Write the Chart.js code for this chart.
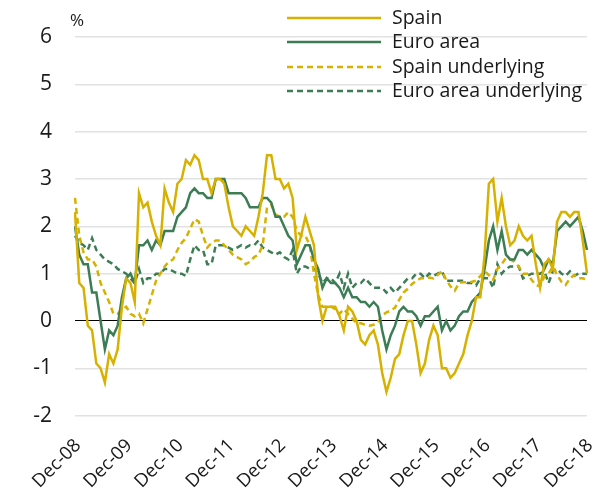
<!DOCTYPE html>
<html>
<head>
<meta charset="utf-8">
<script src="https://cdn.jsdelivr.net/npm/chart.js@4/dist/chart.umd.min.js"></script>
<style>
  body { margin: 0; background: #fff; }
  #wrap { width: 603px; height: 502px; position: relative; }
</style>
</head>
<body>
<div id="wrap"><canvas id="inflationChart"></canvas></div>
<script>
// monthly, Dec-08 .. Dec-18 (121 points)
const monthNames = ['Jan', 'Feb', 'Mar', 'Apr', 'May', 'Jun', 'Jul', 'Aug', 'Sep', 'Oct', 'Nov', 'Dec'];
const tickLabels = ['Dec-08', 'Dec-09', 'Dec-10', 'Dec-11', 'Dec-12', 'Dec-13', 'Dec-14', 'Dec-15', 'Dec-16', 'Dec-17', 'Dec-18'];

const spain = [
  2.3, 0.8, 0.7, -0.1, -0.2, -0.9, -1.0, -1.3, -0.7, -0.9, -0.6, 0.3,
  0.9, 0.8, 0.4, 2.7, 2.4, 2.5, 2.1, 1.8, 1.6, 2.8, 2.5, 2.3,
  2.9, 3.0, 3.4, 3.3, 3.5, 3.4, 3.0, 3.0, 2.7, 3.0, 3.0, 2.9,
  2.4, 2.0, 1.9, 1.8, 2.0, 1.9, 1.8, 2.2, 2.7, 3.5, 3.5, 3.0,
  3.0, 2.8, 2.9, 2.6, 1.5, 1.8, 2.2, 1.9, 1.6, 0.5, 0.0, 0.3,
  0.3, 0.3, 0.1, -0.2, 0.3, 0.2, 0.0, -0.4, -0.5, -0.3, -0.2, -0.5,
  -1.1, -1.5, -1.2, -0.8, -0.7, -0.3, 0.0, 0.0, -0.5, -1.1, -0.9, -0.4,
  -0.1, -0.3, -1.0, -1.0, -1.2, -1.1, -0.9, -0.7, -0.3, 0.0, 0.5, 0.5,
  1.4, 2.9, 3.0, 2.1, 2.6, 2.0, 1.6, 1.7, 2.0, 1.8, 1.7, 1.8,
  1.2, 0.7, 1.2, 1.3, 1.1, 2.1, 2.3, 2.3, 2.2, 2.3, 2.3, 1.7,
  1.0
];
const euroArea = [
  2.0, 1.4, 1.2, 1.2, 0.6, 0.6, 0.0, -0.6, -0.2, -0.3, -0.1, 0.5,
  0.9, 1.0, 0.8, 1.6, 1.6, 1.7, 1.5, 1.7, 1.6, 1.9, 1.9, 1.9,
  2.2, 2.3, 2.4, 2.7, 2.8, 2.7, 2.7, 2.6, 2.6, 3.0, 3.0, 3.0,
  2.7, 2.7, 2.7, 2.7, 2.6, 2.4, 2.4, 2.4, 2.6, 2.6, 2.5, 2.2,
  2.2, 2.0, 1.8, 1.7, 1.2, 1.4, 1.6, 1.6, 1.3, 1.1, 0.7, 0.9,
  0.8, 0.8, 0.7, 0.5, 0.7, 0.5, 0.5, 0.4, 0.4, 0.3, 0.4, 0.3,
  -0.2, -0.6, -0.3, -0.1, 0.2, 0.3, 0.2, 0.2, 0.1, -0.1, 0.1, 0.1,
  0.2, 0.3, -0.2, 0.0, -0.2, -0.1, 0.1, 0.2, 0.2, 0.4, 0.5, 0.6,
  1.1, 1.7, 2.0, 1.5, 1.9, 1.4, 1.3, 1.3, 1.5, 1.5, 1.4, 1.5,
  1.4, 1.3, 1.1, 1.3, 1.2, 1.9, 2.0, 2.1, 2.0, 2.1, 2.2, 1.9,
  1.5
];
const spainUnderlying = [
  2.6, 1.8, 1.45, 1.3, 1.3, 1.15, 0.8, 0.6, 0.4, 0.15, 0.15, 0.25,
  0.3, 0.15, 0.1, 0.15, -0.05, 0.25, 0.55, 0.85, 1.0, 1.15, 1.25, 1.3,
  1.5, 1.65, 1.75, 1.95, 2.15, 2.1, 1.8, 1.55, 1.65, 1.7, 1.7, 1.6,
  1.5, 1.4, 1.35, 1.3, 1.2, 1.25, 1.35, 1.4, 1.6, 2.4, 2.45, 2.25,
  2.2, 2.2, 2.3, 2.2, 1.9, 1.8, 1.8, 1.6, 1.0, 0.55, 0.3, 0.3,
  0.3, 0.25, 0.15, 0.25, 0.15, 0.05, -0.05, -0.05, -0.08, -0.1, -0.08, -0.02,
  0.12, 0.18, 0.22, 0.28, 0.45, 0.6, 0.68, 0.78, 0.85, 0.9, 0.9, 0.92,
  0.9, 0.97, 1.05, 0.87, 0.73, 0.64, 0.8, 0.82, 0.82, 0.83, 0.85, 0.95,
  1.05, 0.97, 0.87, 1.1, 1.2, 1.33, 1.3, 1.25, 1.15, 1.0, 1.0, 0.87,
  0.76, 0.73, 0.94, 1.0, 1.15, 0.97, 0.83, 0.76, 0.9, 0.97, 0.9, 0.9,
  0.87
];
const euroAreaUnderlying = [
  1.8, 1.65, 1.6, 1.5, 1.75, 1.5, 1.4, 1.3, 1.25, 1.2, 1.1, 1.05,
  1.0, 0.9, 0.8, 1.1, 0.8, 0.9, 0.9, 1.0, 1.0, 1.1, 1.1, 1.05,
  1.0, 1.0, 0.95, 1.3, 1.6, 1.5, 1.5, 1.2, 1.2, 1.6, 1.6, 1.6,
  1.55, 1.5, 1.55, 1.6, 1.55, 1.6, 1.6, 1.7, 1.55, 1.5, 1.45, 1.4,
  1.45, 1.35, 1.3, 1.5, 1.0, 1.15, 1.15, 1.1, 1.1, 1.0, 0.8, 0.9,
  0.9, 0.8, 1.0, 0.7, 1.0, 0.7, 0.8, 0.8, 0.9, 0.8, 0.7, 0.7,
  0.7, 0.6, 0.7, 0.6, 0.7, 0.8, 0.9, 0.9, 1.0, 1.0, 0.9, 1.0,
  0.95, 1.0, 1.05, 0.85, 0.85, 0.85, 0.85, 0.85, 0.8, 0.8, 0.75, 0.9,
  0.9, 0.9, 0.7, 1.2, 1.0, 1.1, 1.15, 1.15, 1.15, 0.9, 0.95, 1.0,
  1.0, 1.0, 1.05, 0.8, 1.05, 1.1, 1.0, 0.95, 1.05, 0.95, 1.0, 1.0,
  1.0
];

const gold = '#d6b100';
const green = '#3d7d55';
const textColor = '#1a1a1a';
const fontFamily = '"Open Sans", "Noto Sans", sans-serif';

// category labels Dec-08 .. Dec-18
const labels = [];
for (let i = 0; i < spain.length; i++) {
  const m = (11 + i) % 12;
  const y = 8 + Math.floor((11 + i) / 12);
  labels.push(monthNames[m] + '-' + String(y).padStart(2, '0'));
}

// legend lines + "%" unit, drawn on top of the plot like in the source
const legendAndUnit = {
  id: 'legendAndUnit',
  afterDraw(chart) {
    const ctx = chart.ctx;
    ctx.save();
    ctx.font = '19.5px ' + fontFamily;
    ctx.fillStyle = textColor;
    ctx.textBaseline = 'middle';
    const rows = [18, 42, 67, 91];
    chart.data.datasets.forEach((ds, i) => {
      const y = rows[i];
      ctx.strokeStyle = ds.borderColor;
      ctx.lineWidth = ds.borderWidth;
      ctx.setLineDash(ds.borderDash || []);
      ctx.beginPath();
      ctx.moveTo(287, y);
      ctx.lineTo(381, y);
      ctx.stroke();
      ctx.setLineDash([]);
      ctx.fillText(ds.label, 392, y);
    });
    ctx.font = '17px ' + fontFamily;
    ctx.fillText('%', 70, 21);
    ctx.restore();
  }
};

new Chart(document.getElementById('inflationChart'), {
  type: 'line',
  data: {
    labels: labels,
    datasets: [
      { label: 'Spain', data: spain, borderColor: gold, borderWidth: 2.5 },
      { label: 'Euro area', data: euroArea, borderColor: green, borderWidth: 2.5 },
      { label: 'Spain underlying', data: spainUnderlying, borderColor: gold, borderWidth: 2.5, borderDash: [6, 4] },
      { label: 'Euro area underlying', data: euroAreaUnderlying, borderColor: green, borderWidth: 2.5, borderDash: [6, 4] }
    ]
  },
  options: {
    responsive: true,
    maintainAspectRatio: false,
    animation: false,
    devicePixelRatio: 1,
    layout: { padding: { top: 37, right: 16, left: 0, bottom: 0 } },
    elements: {
      point: { radius: 0 },
      line: { tension: 0, fill: false }
    },
    plugins: {
      legend: { display: false },
      tooltip: { enabled: false }
    },
    scales: {
      x: {
        grid: { display: false },
        border: { display: false },
        ticks: {
          autoSkip: false,
          maxRotation: 45,
          minRotation: 45,
          padding: 11,
          labelOffset: 3,
          color: textColor,
          font: { family: fontFamily, size: 18.5 },
          callback: function (v, i) {
            const l = this.getLabelForValue(v);
            return tickLabels.includes(l) ? l : '';
          }
        },
        afterFit: s => {
          s.height = 86.4;
          s.paddingLeft = 0;
          s.paddingRight = 0;
        }
      },
      y: {
        min: -2,
        max: 6,
        border: { display: false },
        grid: {
          drawTicks: false,
          color: c => c.tick.value === 0 ? '#000000' : '#e2e2e2',
          lineWidth: c => c.tick.value === 0 ? 1 : 1.5
        },
        ticks: {
          stepSize: 1,
          padding: 23,
          color: textColor,
          font: { family: fontFamily, size: 21 }
        },
        afterFit: s => { s.width = 75; }
      }
    }
  },
  plugins: [legendAndUnit]
});
</script>
</body>
</html>
